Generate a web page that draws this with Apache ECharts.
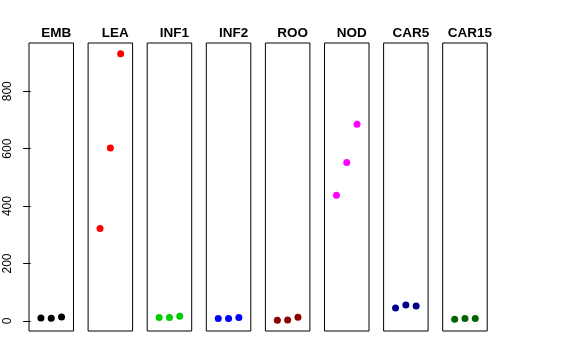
<!DOCTYPE html>
<html><head><meta charset="utf-8">
<script src="https://cdn.jsdelivr.net/npm/echarts@6/dist/echarts.min.js"></script>
<style>html,body{margin:0;padding:0;background:#fff}#c{width:576px;height:360px}</style>
</head><body><div id="c"></div>
<script>
const panels = ['EMB','LEA','INF1','INF2','ROO','NOD','CAR5','CAR15'];
const colors = ['#000000','#FF0000','#00CD00','#0000FF','#8B0000','#FF00FF','#00008B','#006400'];
const xPositions = [1, 2, 3];
const EMB = [10, 9, 14];
const LEA = [322, 602, 931];
const INF1 = [12, 12, 16];
const INF2 = [8, 8, 12];
const ROO = [2, 3, 13];
const NOD = [438, 552, 685];
const CAR5 = [45, 55, 52];
const CAR15 = [6, 8, 8];
const yTicks = [0, 200, 400, 600, 800];
const values = [EMB, LEA, INF1, INF2, ROO, NOD, CAR5, CAR15];

const all = values.flat();
const lo = Math.min(...all), hi = Math.max(...all);
const pad = 0.04 * (hi - lo);
const yMin = lo - pad, yMax = hi + pad;

const grids = [], xAxes = [], yAxes = [], series = [], titles = [];
const L0 = 29, W = 44.5, STEP = 59.1;
panels.forEach((name, i) => {
  const left = L0 + STEP * i;
  grids.push({left: left, width: W, top: 43, height: 288, show: true,
    borderColor: '#000', borderWidth: 1, backgroundColor: 'transparent', containLabel: false});
  xAxes.push({type: 'value', gridIndex: i, min: -0.16, max: 4.16, show: false});
  yAxes.push({type: 'value', gridIndex: i, min: yMin, max: yMax, show: i === 0,
    axisLine: {show: false}, splitLine: {show: false},
    axisTick: {show: true, length: 7.5, lineStyle: {color: '#000'}, customValues: yTicks},
    axisLabel: {show: true, rotate: 90, margin: 15, color: '#000', fontSize: 12,
      fontFamily: 'Liberation Sans, Arial, sans-serif', customValues: yTicks}
  });
  series.push({type: 'scatter', xAxisIndex: i, yAxisIndex: i, symbolSize: 7,
    itemStyle: {color: colors[i], opacity: 1},
    data: values[i].map((v, j) => [xPositions[j], v]), silent: true, animation: false});
  titles.push({text: name, left: left + W / 2, top: 21, textAlign: 'center',
    textStyle: {fontSize: 13.5, fontWeight: 'bold', color: '#000', fontFamily: 'Liberation Sans, Arial, sans-serif'}});
});

const chart = echarts.init(document.getElementById('c'), null, {renderer: 'canvas'});
chart.setOption({animation: false, title: titles, grid: grids, xAxis: xAxes, yAxis: yAxes, series: series});
</script></body></html>
